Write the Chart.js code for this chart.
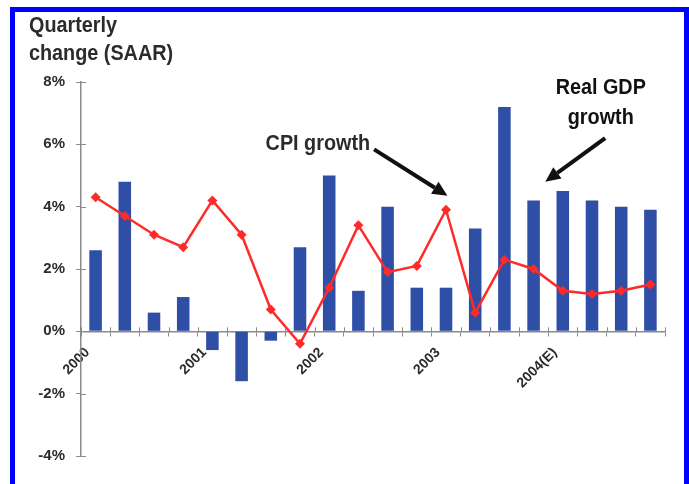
<!DOCTYPE html>
<html>
<head>
<meta charset="utf-8">
<script src="https://cdn.jsdelivr.net/npm/chart.js@4.4.1/dist/chart.umd.min.js"></script>
<style>
  html, body { margin: 0; padding: 0; background: #fff; }
  #wrap { position: absolute; left: 0; top: 0; width: 689px; height: 484px; }
  #frame {
    position: absolute; left: 10px; top: 7px; width: 669px; height: 500px;
    border: 5px solid #0000ff; border-bottom: none; pointer-events: none;
  }
</style>
</head>
<body>
<div id="wrap"><canvas id="gdpChart" width="689" height="484"></canvas></div>
<div id="frame"></div>
<script>
// quarterly data, 2000 Q1 to 2004 Q4
const quarterLabels = ['2000', '', '', '', '2001', '', '', '', '2002', '', '', '',
                       '2003', '', '', '', '2004(E)', '', '', ''];
const gdpGrowth = [2.6, 4.8, 0.6, 1.1, -0.6, -1.6, -0.3, 2.7, 5.0, 1.3, 4.0, 1.4,
                   1.4, 3.3, 7.2, 4.2, 4.5, 4.2, 4.0, 3.9];
const cpiGrowth = [4.3, 3.7, 3.1, 2.7, 4.2, 3.1, 0.7, -0.4, 1.4, 3.4, 1.9, 2.1,
                   3.9, 0.6, 2.3, 2.0, 1.3, 1.2, 1.3, 1.5];
const yTicks = [-4, -2, 0, 2, 4, 6, 8];

const FONT = '"Liberation Sans", Arial, sans-serif';
const TEXT = '#2b2b2b';

// condensed-looking text: tall glyphs squeezed horizontally
function narrowText(ctx, str, x, y, align) {
    const sx = 0.9;
    ctx.save();
    ctx.translate(x, y);
    ctx.scale(sx, 1);
    ctx.textAlign = align;
    ctx.fillText(str, 0, 0);
    ctx.restore();
}

function arrow(ctx, x1, y1, x2, y2) {
    const a = Math.atan2(y2 - y1, x2 - x1);
    const head = 15, half = 7;
    const bx = x2 - head * Math.cos(a), by = y2 - head * Math.sin(a);
    ctx.beginPath();
    ctx.moveTo(x1, y1);
    ctx.lineTo(bx, by);
    ctx.lineWidth = 4;
    ctx.strokeStyle = '#111';
    ctx.stroke();
    ctx.beginPath();
    ctx.moveTo(x2, y2);
    ctx.lineTo(bx + half * Math.sin(a), by - half * Math.cos(a));
    ctx.lineTo(bx - half * Math.sin(a), by + half * Math.cos(a));
    ctx.closePath();
    ctx.fillStyle = '#111';
    ctx.fill();
}

// title, callouts and the inner half of the tick marks
const extras = {
    id: 'extras',
    afterDraw(chart) {
        const ctx = chart.ctx;
        const xs = chart.scales.x, ys = chart.scales.y;
        ctx.save();

        ctx.strokeStyle = '#8a8a8a';
        ctx.lineWidth = 1;
        const x0 = xs.left, y0 = ys.getPixelForValue(0);
        yTicks.forEach(v => {
            const y = Math.round(ys.getPixelForValue(v)) + 0.5;
            ctx.beginPath(); ctx.moveTo(x0, y); ctx.lineTo(x0 + 5, y); ctx.stroke();
        });
        for (let i = 0; i <= quarterLabels.length; i++) {
            const x = Math.round(xs.getPixelForValue(i - 0.5)) + 0.5;
            ctx.beginPath(); ctx.moveTo(x, y0); ctx.lineTo(x, y0 - 4); ctx.stroke();
        }

        ctx.fillStyle = TEXT;
        ctx.font = 'bold 22px ' + FONT;
        ctx.textBaseline = 'alphabetic';
        narrowText(ctx, 'Quarterly', 29, 32, 'left');
        narrowText(ctx, 'change (SAAR)', 29, 60, 'left');

        ctx.textBaseline = 'middle';
        const cpiX = xs.getPixelForValue(9.4), cpiY = ys.getPixelForValue(6.0);
        narrowText(ctx, 'CPI growth', cpiX, cpiY, 'right');
        arrow(ctx, cpiX + 4, cpiY + 5, xs.getPixelForValue(12.05), ys.getPixelForValue(4.35));

        const gX = xs.getPixelForValue(17.3);
        narrowText(ctx, 'Real GDP', gX, ys.getPixelForValue(7.8), 'center');
        narrowText(ctx, 'growth', gX, ys.getPixelForValue(6.85), 'center');
        arrow(ctx, xs.getPixelForValue(17.45), ys.getPixelForValue(6.2),
              xs.getPixelForValue(15.4), ys.getPixelForValue(4.8));
        ctx.restore();
    }
};

const ctx = document.getElementById('gdpChart').getContext('2d');
const gdpChart = new Chart(ctx, {
    type: 'bar',
    data: {
        labels: quarterLabels,
        datasets: [{
            type: 'line',
            label: 'CPI growth',
            data: cpiGrowth,
            borderColor: '#ff2a2a',
            backgroundColor: '#ff2a2a',
            borderWidth: 2.5,
            pointStyle: 'rectRot',
            pointRadius: 5,
            pointBorderWidth: 0,
            tension: 0,
            order: 0
        },
        {
            label: 'Real GDP growth',
            data: gdpGrowth,
            backgroundColor: '#2f4ea6',
            categoryPercentage: 1,
            barPercentage: 0.43,
            order: 1
        }]
    },
    options: {
        responsive: false,
        animation: false,
        layout: { padding: { top: 82, bottom: 28, right: 24, left: 0 } },
        plugins: {
            legend: { display: false },
            tooltip: { enabled: false }
        },
        scales: {
            x: {
                position: { y: 0 },
                offset: true,
                border: { color: '#8a8a8a', width: 1.5 },
                grid: { drawOnChartArea: false, tickLength: 4, color: '#8a8a8a' },
                ticks: {
                    autoSkip: false,
                    minRotation: 45,
                    maxRotation: 45,
                    padding: 9,
                    labelOffset: -8,
                    color: TEXT,
                    font: { family: FONT, size: 14, weight: 'bold' }
                }
            },
            y: {
                min: -4,
                max: 8,
                afterFit(scale) { scale.width = 81; },
                afterBuildTicks(scale) { scale.ticks = yTicks.map(v => ({ value: v })); },
                border: { color: '#8a8a8a', width: 1.5 },
                grid: { drawOnChartArea: false, tickLength: 5, color: '#8a8a8a' },
                ticks: {
                    padding: 11,
                    color: TEXT,
                    font: { family: FONT, size: 15, weight: 'bold' },
                    callback: v => v + '%'
                }
            }
        }
    },
    plugins: [extras]
});
</script>
</body>
</html>
